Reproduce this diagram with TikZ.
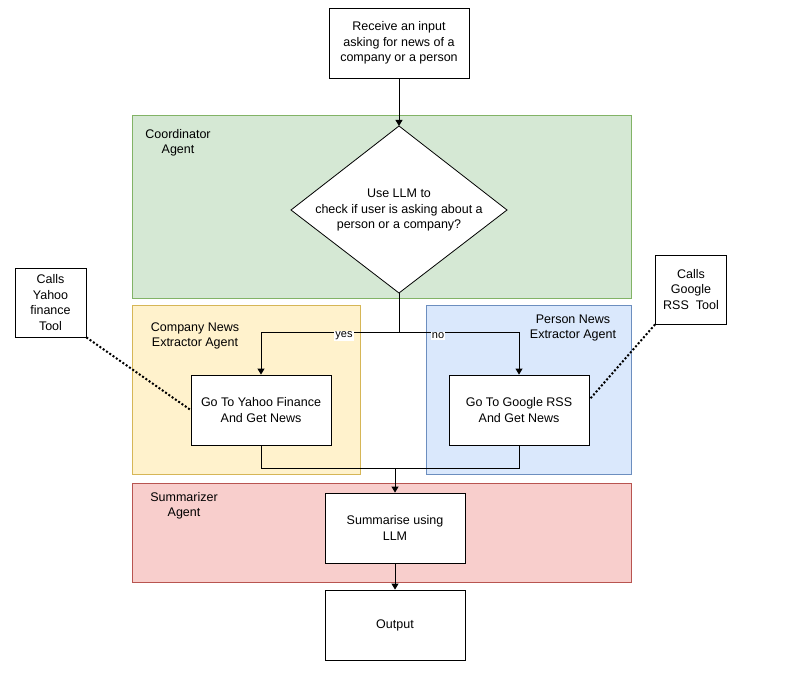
\documentclass[tikz,border=0pt]{standalone}
\usepackage{fontspec}
\setmainfont{Liberation Sans}
\usetikzlibrary{arrows.meta}
\definecolor{grnF}{HTML}{D5E8D4}\definecolor{grnD}{HTML}{82B366}
\definecolor{ylwF}{HTML}{FFF2CC}\definecolor{ylwD}{HTML}{D6B656}
\definecolor{bluF}{HTML}{DAE8FC}\definecolor{bluD}{HTML}{6C8EBF}
\definecolor{redF}{HTML}{F8CECC}\definecolor{redD}{HTML}{B85450}
\tikzset{%
  tipA/.tip={Triangle[angle=60:7pt]},
  box/.style={draw, thick, fill=white, minimum width=140pt, minimum height=70pt, align=center},
  note/.style={draw, thick, fill=white, minimum width=71pt, minimum height=69pt, align=center},
  zone/.style={line width=0.8pt},
  lbl/.style={align=center, inner sep=0pt},
  yn/.style={fill=white, inner sep=1pt, font=\fontsize{11}{13}\selectfont}
}
\begin{document}
\begin{tikzpicture}[x=1pt,y=-1pt,font=\fontsize{12.5}{15.5}\selectfont,line width=1pt]
\useasboundingbox (0,0) rectangle (800,684);
% agent areas
\draw[zone, fill=grnF, draw=grnD] (132,115) rectangle (631,298);
\draw[zone, fill=ylwF, draw=ylwD] (132,305) rectangle (360,474);
\draw[zone, fill=bluF, draw=bluD] (426,305) rectangle (631,474);
\draw[zone, fill=redF, draw=redD] (132,483) rectangle (631,582);
\node[lbl] at (178,143) {Coordinator\\Agent};
\node[lbl] at (195,336) {Company News\\Extractor Agent};
\node[lbl] at (573,328) {Person News\\Extractor Agent};
\node[lbl] at (184,506) {Summarizer\\Agent};
% steps
\node[box] (input) at (399,43) {Receive an input\\asking for news of a\\company or a person};
\coordinate (chkN) at (399,126);
\coordinate (chkS) at (399,293);
\draw[thick, fill=white] (chkN) -- (507,210) -- (chkS) -- (291,210) -- cycle;
\node[align=center] (check) at (399,210) {Use LLM to\\check if user is asking about a\\person or a company?};
\node[box] (yahoo) at (261,410) {Go To Yahoo Finance\\And Get News};
\node[box] (google) at (519,410) {Go To Google RSS\\And Get News};
\node[box] (summ) at (395,528) {Summarise using\\LLM};
\node[box] (out) at (395,625) {Output};
\node[note] (callY) at (50.5,302.5) {Calls\\Yahoo\\finance\\Tool};
\node[note] (callG) at (691,289.5) {Calls\\Google\\RSS~~Tool};
\coordinate (split) at (399,333);
\coordinate (join) at (395,468);
% connectors
\draw[-tipA] (input) -- (chkN);
\draw (chkS) -- (split);
\draw[-tipA] (split) -| (yahoo.north);
\draw[-tipA] (split) -| (google.north);
\node[yn] at (344,336) {yes};
\node[yn] at (438,336) {no};
\draw (yahoo.south) |- (join);
\draw (google.south) |- (join);
\draw[-tipA] (join) -- (summ.north);
\draw[-tipA] (summ) -- (out);
\draw[dotted, line width=2pt] (callY.south east) -- (yahoo.west);
\draw[dotted, line width=2pt] (callG.south west) -- ([yshift=-25pt]google.north east);
\end{tikzpicture}
\end{document}
